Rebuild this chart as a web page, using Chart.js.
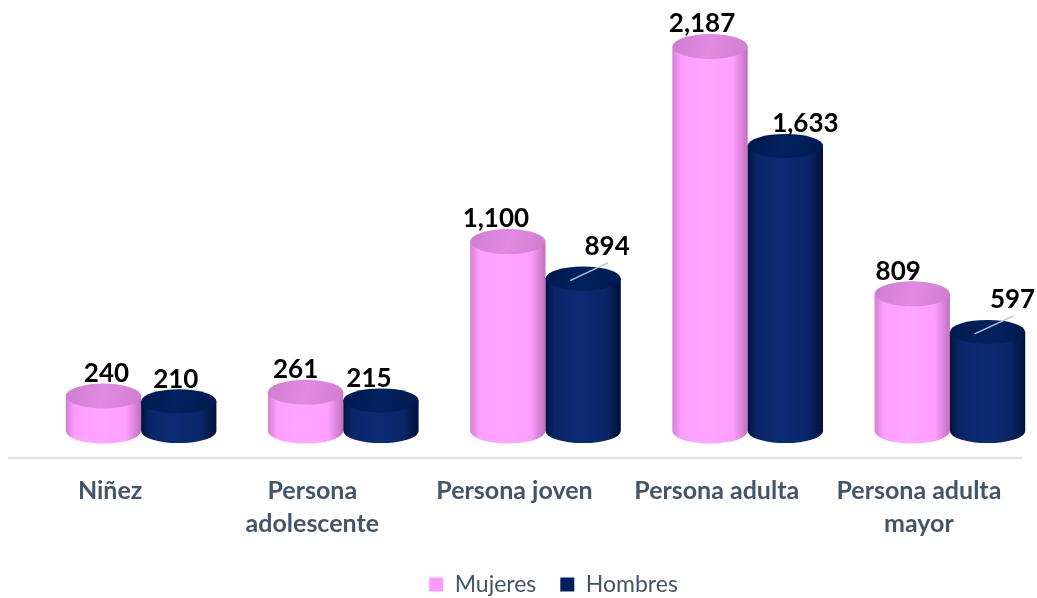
<!DOCTYPE html>
<html>
<head>
<meta charset="utf-8">
<script src="https://cdn.jsdelivr.net/npm/chart.js@4.4.0/dist/chart.umd.min.js"></script>
<style>
  html, body { margin: 0; padding: 0; background: #ffffff; overflow: hidden; }
  #wrap { width: 1037px; height: 598px; position: relative; overflow: hidden; }
</style>
</head>
<body>
<div id="wrap"><canvas id="c" width="1080" height="598"></canvas></div>
<script>
const categories = [['Niñez'], ['Persona', 'adolescente'], ['Persona joven'], ['Persona adulta'], ['Persona adulta', 'mayor']];
const seriesNames = ['Mujeres', 'Hombres'];
const mujeres = [240, 261, 1100, 2187, 809];
const hombres = [210, 215, 894, 1633, 597];

// label placement tweaks (style, not data)
const labelDxM = [3, -10, -12, -8, -14];
const labelDyM = [0, 0, 0, 0, 0];
const labelDxH = [-3, -12, 24, 20, 25];
const labelDyH = [0, 0, -10, 0, -10];
const leaderH = [false, false, true, false, true];

const styles = [
  { edge: '#d27fd2', mid: '#ff9eff', light: '#ffa6ff', dark: '#c070c0', top: '#cf7ccf', topLight: '#e08be0', ry: 12.5 },
  { edge: '#00143f', mid: '#0a2668', light: '#0d2b74', dark: '#001238', top: '#001a50', topLight: '#02215e', ry: 12 }
];

const legendShift = {
  id: 'legendShift',
  afterLayout(chart) {
    if (chart.legend) {
      chart.legend.left += 8;
      chart.legend.right += 8;
    }
  }
};

const cylinderPlugin = {
  id: 'cylinders',
  beforeDatasetsDraw(chart) {
    const ctx = chart.ctx;
    const ca = chart.chartArea;
    // axis line
    ctx.save();
    ctx.strokeStyle = '#dfe2ea';
    ctx.lineWidth = 2.5;
    ctx.beginPath();
    ctx.moveTo(ca.left - 32, ca.bottom + 1);
    ctx.lineTo(ca.right - 29, ca.bottom + 1);
    ctx.stroke();
    ctx.restore();

    chart.data.datasets.forEach((ds, di) => {
      const meta = chart.getDatasetMeta(di);
      const st = styles[di];
      meta.data.forEach((bar, i) => {
        const p = bar.getProps(['x', 'y', 'base', 'width'], true);
        const rx = p.width / 2;
        const ry = st.ry;
        const topY = p.y;
        const botY = p.base - 8;
        const x0 = p.x - rx, x1 = p.x + rx;
        ctx.save();
        const g = ctx.createLinearGradient(x0, 0, x1, 0);
        g.addColorStop(0, st.edge);
        g.addColorStop(0.12, st.mid);
        g.addColorStop(0.45, st.light);
        g.addColorStop(0.8, st.mid);
        g.addColorStop(1, st.dark);
        ctx.fillStyle = g;
        ctx.beginPath();
        ctx.moveTo(x0, topY);
        ctx.lineTo(x0, botY);
        ctx.ellipse(p.x, botY, rx, ry, 0, Math.PI, 0, true);
        ctx.lineTo(x1, topY);
        ctx.closePath();
        ctx.fill();
        // top
        const tg = ctx.createLinearGradient(x0, topY - ry, x1, topY + ry);
        tg.addColorStop(0, st.top);
        tg.addColorStop(0.5, st.topLight);
        tg.addColorStop(1, st.top);
        ctx.fillStyle = tg;
        ctx.beginPath();
        ctx.ellipse(p.x, topY, rx, ry, 0, 0, Math.PI * 2);
        ctx.fill();
        ctx.restore();

        // labels
        const dx = di === 0 ? labelDxM[i] : labelDxH[i];
        const dy = di === 0 ? labelDyM[i] : labelDyH[i];
        const lx = p.x + dx;
        const ly = topY - ry - 10 + dy;
        const v = ds.data[i];
        ctx.save();
        if (di === 1 && leaderH[i]) {
          ctx.strokeStyle = '#b8c4d8';
          ctx.lineWidth = 1.5;
          ctx.beginPath();
          ctx.moveTo(p.x - 13, topY + 2);
          ctx.lineTo(lx + 1, ly + 16);
          ctx.stroke();
        }
        ctx.fillStyle = '#000000';
        ctx.font = 'bold 26px Lato';
        ctx.textAlign = 'center';
        ctx.textBaseline = 'middle';
        ctx.fillText(v.toLocaleString('en-US'), lx, ly);
        ctx.restore();
      });
    });
    return false;
  }
};

new Chart(document.getElementById('c'), {
  type: 'bar',
  data: {
    labels: categories,
    datasets: [
      { label: seriesNames[0], data: mujeres, backgroundColor: '#ff99ff', borderWidth: 0 },
      { label: seriesNames[1], data: hombres, backgroundColor: '#002060', borderWidth: 0 }
    ]
  },
  options: {
    responsive: false,
    animation: false,
    layout: { padding: { left: 40, right: 29, top: 19, bottom: -8 } },
    datasets: { bar: { categoryPercentage: 0.745, barPercentage: 1.0 } },
    scales: {
      x: {
        grid: { display: false },
        border: { display: false },
        ticks: {
          color: '#44546a',
          font: { family: 'Lato', size: 25, weight: 'bold', lineHeight: 1.32 },
          labelOffset: -31,
          padding: 9,
          maxRotation: 0,
          autoSkip: false
        }
      },
      y: { display: false, min: -100, max: 2340 }
    },
    plugins: {
      tooltip: { enabled: false },
      legend: {
        position: 'bottom',
        labels: {
          color: '#44546a',
          font: { family: 'Lato', size: 23 },
          boxWidth: 14,
          boxHeight: 14,
          padding: 24
        }
      }
    }
  },
  plugins: [cylinderPlugin, legendShift]
});
</script>
</body>
</html>
